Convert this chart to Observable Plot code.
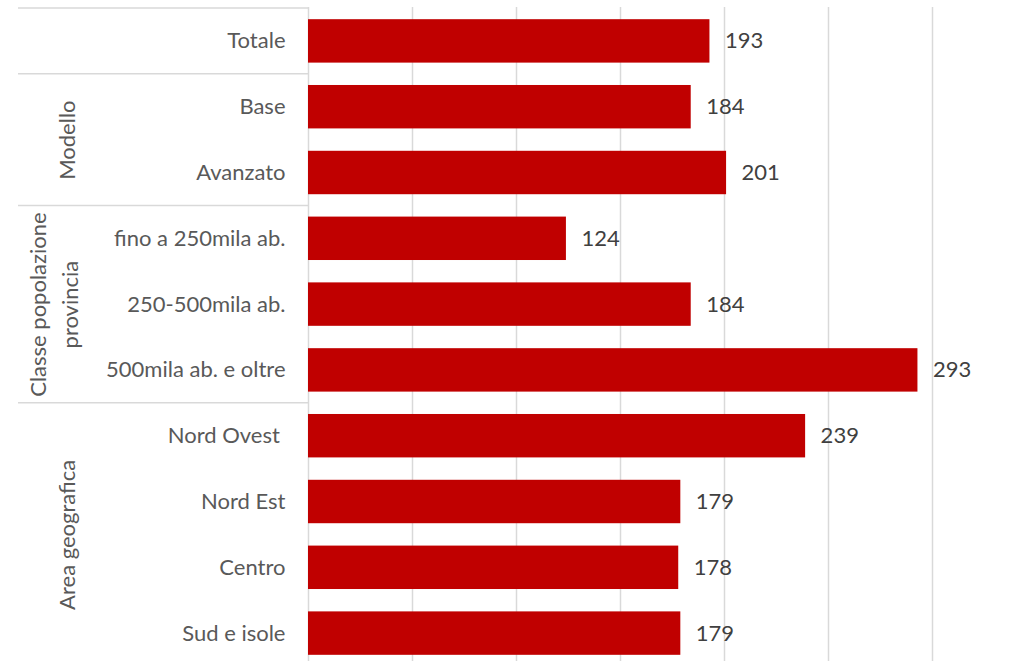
<!DOCTYPE html>
<html>
<head>
<meta charset="utf-8">
<script src="https://cdn.jsdelivr.net/npm/d3@7"></script>
<script src="https://cdn.jsdelivr.net/npm/@observablehq/plot@0.6"></script>
<style>
  html, body { margin: 0; padding: 0; background: #fff; overflow: hidden; }
</style>
</head>
<body>
<div id="chart"></div>
<script>
// ---- data ----
const categories = ["Totale", "Base", "Avanzato", "fino a 250mila ab.", "250-500mila ab.", "500mila ab. e oltre", "Nord Ovest ", "Nord Est", "Centro", "Sud e isole"];
const values = [193, 184, 201, 124, 184, 293, 239, 179, 178, 179];
const groupNames = [["Modello"], ["Classe popolazione", "provincia"], ["Area geografica"]];
// category on which each group label is centred, plus offset in band steps
const groupAnchors = ["Base", "250-500mila ab.", "Nord Est"];
const groupAnchorOffset = [0.5, 0, 0.5];
const separatorAfter = ["Totale", "Avanzato", "500mila ab. e oltre"];
const gridTicks = [0, 50, 100, 150, 200, 250, 300];

const rows = categories.map((c, i) => ({cat: c, value: values[i]}));

// ---- layout ----
const width = 1031, height = 666;
const marginLeft = 308, marginRight = 99, marginTop = 8, marginBottom = 0;
const n = categories.length;
const step = (height - marginTop - marginBottom) / n;
const xMax = 300;
const pxPerUnit = (width - marginLeft - marginRight) / xMax;
const leftEdgeValue = (18 - marginLeft) / pxPerUnit;

const font = "Lato, 'Open Sans', sans-serif";
const grey = "#d9d9d9";
const fs = 22;

const groups = groupNames.map((g, i) => ({t: g.join("\n"), y: groupAnchors[i], off: groupAnchorOffset[i], lines: g.length}));

const marks = [
  Plot.ruleX(gridTicks, {stroke: grey, strokeWidth: 1.5, dy: -1}),
  Plot.barX(rows, {y: "cat", x: "value", fill: "#C00000"}),
  Plot.text(rows, {y: "cat", x: "value", text: d => String(d.value), textAnchor: "start", dx: 15, fontSize: fs, fill: "#404040"}),
  // group separators
  Plot.ruleY(separatorAfter, {y: d => d, x1: leftEdgeValue, x2: 0, dy: step / 2 - 0.5, stroke: grey, strokeWidth: 1.5}),
  Plot.ruleY([categories[0]], {y: d => d, x1: leftEdgeValue, x2: 0, dy: -step / 2 - 0.5, stroke: grey, strokeWidth: 1.5}),
];
// group labels
groups.forEach(g => {
  marks.push(Plot.text([g], {
    y: "y", text: "t", frameAnchor: "left", textAnchor: "middle",
    dx: g.lines > 1 ? -257 : -244,
    dy: g.off * step,
    rotate: -90, fontSize: fs, fill: "#595959", lineAnchor: "middle", lineHeight: 1.45
  }));
});

const chart = Plot.plot({
  width, height, marginLeft, marginRight, marginTop, marginBottom,
  style: {fontFamily: font, fontSize: fs + "px", color: "#595959", background: "#fff"},
  x: {domain: [0, xMax], axis: null},
  y: {domain: categories, round: false, paddingInner: 0.34, paddingOuter: 0.17, tickSize: 0, tickPadding: 23, label: null, fontSize: fs},
  marks
});
document.getElementById("chart").appendChild(chart);
</script>
</body>
</html>
